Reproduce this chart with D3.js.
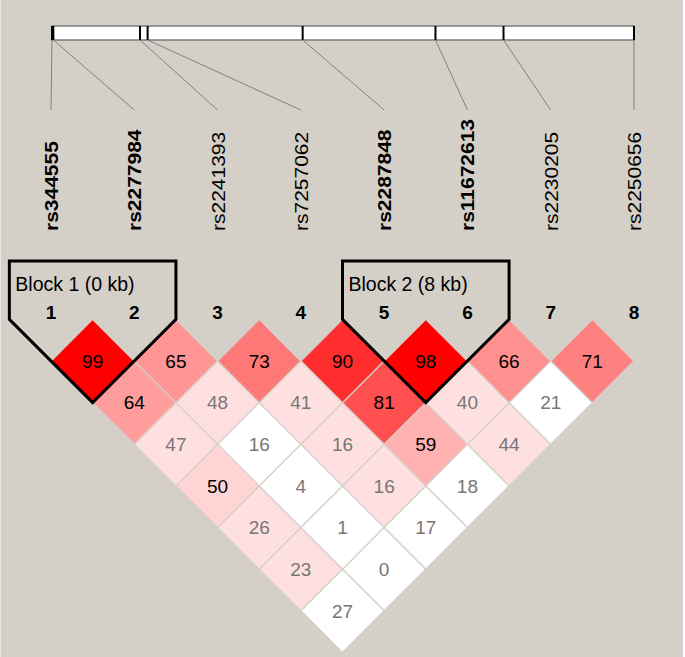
<!DOCTYPE html>
<html>
<head>
<meta charset="utf-8">
<script src="https://cdn.jsdelivr.net/npm/d3@7"></script>
<style>
  html, body { margin: 0; padding: 0; background: #d4d0c8; }
  svg { display: block; }
  text { font-family: "Liberation Sans", Arial, sans-serif; }
</style>
</head>
<body>
<svg id="ld"></svg>
<script>
// markers, physical position along the region (kb)
const markers = ['rs344555', 'rs2277984', 'rs2241393', 'rs7257062',
  'rs2287848', 'rs11672613', 'rs2230205', 'rs2250656'];
const positions_kb = [0, 0.08, 5.3, 5.76, 15.1, 23.1, 27.2, 35.06];

// pairwise values, row i = marker i+1 against the markers after it
const ld_values = [
  [99, 64, 47, 50, 26, 23, 27],
  [65, 48, 16, 4, 1, 0],
  [73, 41, 16, 16, 17],
  [90, 81, 59, 18],
  [98, 40, 44],
  [66, 21],
  [71]
];

// D' shading strength for each pair (0 = white, 1 = full red)
const ld_shade = [
  [1, 0.39, 0.12, 0.17, 0.12, 0.12, 0],
  [0.415, 0.12, 0, 0, 0, 0],
  [0.53, 0.12, 0.12, 0.12, 0],
  [0.82, 0.69, 0.31, 0],
  [1, 0.12, 0.12],
  [0.435, 0],
  [0.5]
];

const blocks = [
  { first: 1, last: 2, label: 'Block 1 (0 kb)' },
  { first: 5, last: 6, label: 'Block 2 (8 kb)' }
];

const width = 685;
const height = 657;
const svg = d3.select('#ld').attr('width', width).attr('height', height);

svg.append('rect').attr('width', width).attr('height', height).attr('fill', '#d4d0c8');
svg.append('rect').attr('x', width - 2).attr('width', 2).attr('height', height).attr('fill', '#fff');
svg.append('rect').attr('width', 1).attr('height', height).attr('fill', '#ebe9e4');

const idx = d3.range(1, markers.length + 1);
const x = d3.scalePoint().domain(idx).range([51, 634]);
const kb = d3.scaleLinear().domain(d3.extent(positions_kb)).range([52, 634]);
const half = x.step() / 2;
const row0 = 361;
const color = d3.scaleLinear().domain([0, 1]).range(['#ffffff', '#ff0000']);

const in_block = new Set(blocks.flatMap(b => d3.range(b.first, b.last + 1)));

// physical map bar
const barTop = 26, barBottom = 40, labelLineEnd = 110;
svg.append('rect')
  .attr('x', kb(0)).attr('y', barTop)
  .attr('width', kb(positions_kb[positions_kb.length - 1]) - kb(0))
  .attr('height', barBottom - barTop)
  .attr('fill', '#fff').attr('stroke', '#7a7a7a').attr('stroke-width', 1.5);

svg.append('g').selectAll('line')
  .data(positions_kb)
  .join('line')
  .attr('x1', d => kb(d)).attr('x2', d => kb(d))
  .attr('y1', barTop).attr('y2', barBottom)
  .attr('stroke', '#000').attr('stroke-width', 2);

svg.append('g').selectAll('line')
  .data(positions_kb)
  .join('line')
  .attr('x1', d => kb(d)).attr('y1', barBottom)
  .attr('x2', (d, i) => x(i + 1)).attr('y2', labelLineEnd)
  .attr('stroke', '#808080').attr('stroke-width', 1);

// marker names
svg.append('g').selectAll('text')
  .data(markers)
  .join('text')
  .attr('transform', (d, i) => `translate(${x(i + 1) + 7},231) rotate(-90) scale(1,0.88)`)
  .attr('text-anchor', 'start')
  .attr('x', 0)
  .attr('font-size', 21)
  .attr('font-weight', (d, i) => in_block.has(i + 1) ? 'bold' : 'normal')
  .attr('fill', '#000')
  .text(d => d);

// marker numbers
svg.append('g').selectAll('text')
  .data(idx)
  .join('text')
  .attr('x', d => x(d)).attr('y', 319)
  .attr('text-anchor', 'middle')
  .attr('font-size', 19).attr('font-weight', 'bold')
  .text(d => d);

// LD cells
const cells = [];
ld_values.forEach((row, i) => {
  row.forEach((v, k) => {
    const a = i + 1, b = i + 2 + k;
    cells.push({ a, b, value: v, shade: ld_shade[i][k] });
  });
});

const cx = d => (x(d.a) + x(d.b)) / 2;
const cy = d => row0 + (d.b - d.a - 1) * half;
const r = half - 1;

const cell = svg.append('g').selectAll('g')
  .data(cells)
  .join('g')
  .attr('transform', d => `translate(${cx(d)},${cy(d)})`);

cell.append('path')
  .attr('d', `M0,${-r}L${r},0L0,${r}L${-r},0Z`)
  .attr('fill', d => color(d.shade));

cell.append('text')
  .attr('text-anchor', 'middle')
  .attr('dy', '0.36em')
  .attr('font-size', 19)
  .attr('fill', d => d.shade > 0.15 ? '#000' : '#777')
  .text(d => d.value);

// haplotype blocks
const blockTop = 261;
const bg = svg.append('g').selectAll('g').data(blocks).join('g');

bg.append('path')
  .attr('d', b => {
    const left = x(b.first) - half, right = x(b.last) + half;
    const bottomX = (x(b.first) + x(b.last)) / 2;
    const bottomY = row0 + (b.last - b.first - 1) * half + half;
    const side = row0 - half;
    return `M${bottomX},${bottomY}L${left},${side}L${left},${blockTop}` +
      `L${right},${blockTop}L${right},${side}Z`;
  })
  .attr('fill', 'none').attr('stroke', '#000')
  .attr('stroke-width', 3).attr('stroke-linejoin', 'miter');

bg.append('text')
  .attr('x', b => x(b.first) - half + 6)
  .attr('y', 291)
  .attr('font-size', 19.5)
  .text(b => b.label);
</script>
</body>
</html>
